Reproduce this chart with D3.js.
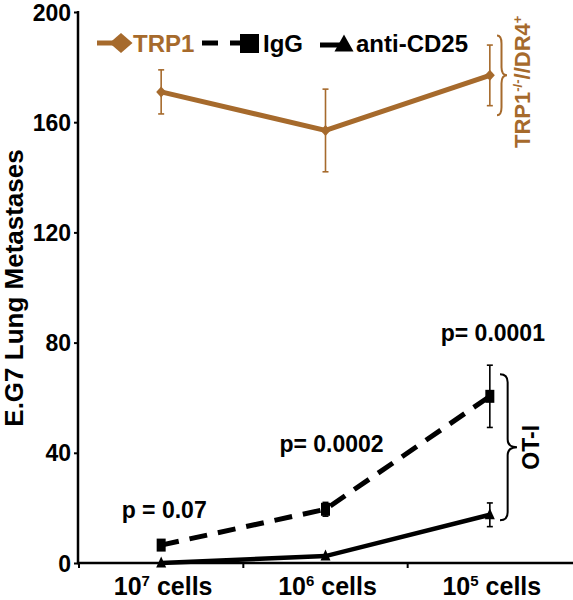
<!DOCTYPE html>
<html><head><meta charset="utf-8">
<script src="https://cdn.jsdelivr.net/npm/d3@7"></script>
<style>
html,body{margin:0;padding:0;background:#fff;}
text{font-family:"Liberation Sans",Arial,sans-serif;font-weight:bold;}
</style></head>
<body><svg id="c" width="573" height="600"></svg>
<script>
const categories = ["10^7", "10^6", "10^5"];
const catExponent = ["7", "6", "5"];
const trp1Values = [171, 157, 177];
const trp1Errors = [8, 15, 11];
const iggValues = [6.5, 19.5, 60.5];
const iggErrors = [0, 2.5, 11.3];
const cd25Values = [0, 2.5, 17.5];
const cd25Errors = [0, 0, 4.3];
const pLabels = ["p = 0.07", "p= 0.0002", "p= 0.0001"];
const yTicks = [0, 40, 80, 120, 160, 200];

const brown = "#A66A2C";
const svg = d3.select("#c");
const x = d3.scaleBand().domain(categories).range([79, 572]);
const cx = c => x(c) + x.bandwidth() / 2;
const y = d3.scaleLinear().domain([0, 200]).range([563, 12]);

// Axes
const yAxis = svg.append("g").attr("transform", "translate(78,0)")
  .call(d3.axisLeft(y).tickValues(yTicks).tickSize(4).tickPadding(3));
yAxis.select(".domain").attr("stroke", "#000").attr("stroke-width", 2.5).attr("d", `M0,${y(200)-1}V${y(0)}`);
yAxis.selectAll(".tick line").attr("stroke-width", 2);
yAxis.selectAll(".tick text").attr("font-size", 23).attr("fill", "#000").attr("dy", "0.35em");

const xg = svg.append("g");
xg.append("line").attr("x1", 77).attr("x2", 573).attr("y1", y(0)).attr("y2", y(0))
  .attr("stroke", "#000").attr("stroke-width", 2.5);
const bounds = [x.range()[0]].concat(categories.slice(1).map(c => x(c)));
xg.selectAll("line.tk").data(bounds).enter().append("line")
  .attr("x1", d => d).attr("x2", d => d).attr("y1", y(0)).attr("y2", y(0) + 5)
  .attr("stroke", "#000").attr("stroke-width", 2);
const xl = xg.selectAll("text.xl").data(categories).enter().append("text")
  .attr("x", d => cx(d) + 2).attr("y", 595).attr("text-anchor", "middle").attr("font-size", 25);
xl.append("tspan").text("10");
xl.append("tspan").attr("dy", -9).attr("font-size", 15).text((d, i) => catExponent[i]);
xl.append("tspan").attr("dy", 9).text(" cells");

// Y title
svg.append("text").attr("transform", `translate(23,288) rotate(-90)`)
  .attr("text-anchor", "middle").attr("font-size", 26).text("E.G7 Lung Metastases");

// Error bars
function errBars(vals, errs, color) {
  const g = svg.append("g").attr("stroke", color).attr("stroke-width", 1.6).attr("fill", "none");
  categories.forEach((c, i) => {
    if (!errs[i]) return;
    const X = cx(c), y1 = y(vals[i] + errs[i]), y2 = y(vals[i] - errs[i]);
    g.append("line").attr("x1", X).attr("x2", X).attr("y1", y1).attr("y2", y2);
    g.append("line").attr("x1", X - 3).attr("x2", X + 3).attr("y1", y1).attr("y2", y1);
    g.append("line").attr("x1", X - 3).attr("x2", X + 3).attr("y1", y2).attr("y2", y2);
  });
}
errBars(trp1Values, trp1Errors, brown);
errBars(iggValues, iggErrors, "#000");
errBars(cd25Values, cd25Errors, "#000");

const line = vals => d3.line().x((d, i) => cx(categories[i])).y(d => y(d))(vals);
svg.append("path").attr("d", line(trp1Values)).attr("stroke", brown).attr("stroke-width", 5).attr("fill", "none");
svg.append("path").attr("d", line(iggValues)).attr("stroke", "#000").attr("stroke-width", 5)
  .attr("stroke-dasharray", "18,11").attr("fill", "none");
svg.append("path").attr("d", line(cd25Values)).attr("stroke", "#000").attr("stroke-width", 4.5).attr("fill", "none");

// Markers
const diamond = (X, Y, w, h) => `M${X},${Y - h / 2}L${X + w / 2},${Y}L${X},${Y + h / 2}L${X - w / 2},${Y}Z`;
const tri = (X, Y, w, h) => `M${X},${Y - h / 2}L${X + w / 2},${Y + h / 2}L${X - w / 2},${Y + h / 2}Z`;
svg.selectAll("path.dm").data(trp1Values).enter().append("path")
  .attr("d", (d, i) => diamond(cx(categories[i]), y(d), 10, 11)).attr("fill", brown);
svg.selectAll("rect.sq").data(iggValues).enter().append("rect")
  .attr("x", (d, i) => cx(categories[i]) - 4.5).attr("y", d => y(d) - 6.5)
  .attr("width", 9).attr("height", 13).attr("fill", "#000");
svg.selectAll("path.tr").data(cd25Values).enter().append("path")
  .attr("d", (d, i) => tri(cx(categories[i]), y(d) - 1, 10, 11)).attr("fill", "#000");

// p labels
svg.selectAll("text.p").data(pLabels).enter().append("text")
  .attr("x", (d, i) => cx(categories[i]) + [3, 6, 3][i])
  .attr("y", (d, i) => [518, 452, 341][i])
  .attr("text-anchor", "middle").attr("font-size", 23).text(d => d);

// Legend
const lg = svg.append("g");
lg.append("line").attr("x1", 97).attr("x2", 122).attr("y1", 43).attr("y2", 43).attr("stroke", brown).attr("stroke-width", 5);
lg.append("path").attr("d", diamond(121, 43, 23, 20)).attr("fill", brown);
lg.append("text").attr("x", 133).attr("y", 52).attr("font-size", 24).attr("fill", brown).text("TRP1");
lg.append("line").attr("x1", 202).attr("x2", 218).attr("y1", 43).attr("y2", 43).attr("stroke", "#000").attr("stroke-width", 5);
lg.append("line").attr("x1", 230).attr("x2", 245).attr("y1", 43).attr("y2", 43).attr("stroke", "#000").attr("stroke-width", 5);
lg.append("rect").attr("x", 240).attr("y", 34).attr("width", 19).attr("height", 19).attr("fill", "#000");
lg.append("text").attr("x", 263).attr("y", 52).attr("font-size", 24).text("IgG");
lg.append("line").attr("x1", 320).attr("x2", 340).attr("y1", 45).attr("y2", 45).attr("stroke", "#000").attr("stroke-width", 5);
lg.append("path").attr("d", tri(344, 43, 19, 17)).attr("fill", "#000");
lg.append("text").attr("x", 356).attr("y", 52).attr("font-size", 24).text("anti-CD25");

// Braces
function brace(x0, yTop, yBot, depth, color, sw) {
  const mid = (yTop + yBot) / 2, xm = x0 + depth * 0.45, r = 8;
  const p = `M${x0},${yTop} Q${xm},${yTop} ${xm},${yTop + r} L${xm},${mid - r} Q${xm},${mid} ${x0 + depth},${mid}` +
    ` Q${xm},${mid} ${xm},${mid + r} L${xm},${yBot - r} Q${xm},${yBot} ${x0},${yBot}`;
  svg.append("path").attr("d", p).attr("stroke", color).attr("stroke-width", sw).attr("fill", "none");
}
brace(500, y(68.5), y(15.5), 17, "#000", 2);
brace(497, y(191.5), y(162.5), 10, brown, 2);

svg.append("text").attr("transform", `translate(539,${(y(68.5) + y(15.5)) / 2}) rotate(-90)`)
  .attr("text-anchor", "middle").attr("font-size", 23).text("OT-I");

const tl = svg.append("text").attr("transform", `translate(530,148) rotate(-90)`)
  .attr("text-anchor", "start").attr("font-size", 22).attr("fill", brown);
tl.append("tspan").text("TRP1");
tl.append("tspan").attr("dy", -8).attr("font-size", 13).text("-/-");
tl.append("tspan").attr("dy", 8).text("//DR4");
tl.append("tspan").attr("dy", -8).attr("font-size", 13).text("+");
</script></body></html>
